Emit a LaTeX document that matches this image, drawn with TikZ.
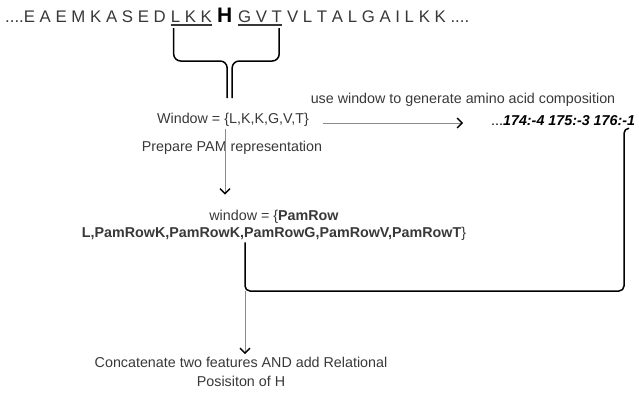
\documentclass[tikz,border=0pt]{standalone}
\usepackage{fontspec}
\setmainfont{Liberation Sans}
\usetikzlibrary{arrows.meta,positioning}
\definecolor{txtgray}{HTML}{383838}
\definecolor{linegray}{HTML}{8A8A8A}

\begin{document}
\begin{tikzpicture}[x=1pt, y=-1pt,
    lbl/.style={text=txtgray, font=\fontsize{14.3}{17}\selectfont, inner sep=2pt},
    seqtxt/.style={text=txtgray, font=\fontsize{16.8}{19}\selectfont, inner sep=0pt, anchor=base west},
    flow/.style={draw=linegray, line width=1pt, -{Straight Barb[length=5pt,width=10pt,line width=1.4pt,color=black]}},
    brace/.style={draw=black, line width=1.5pt, rounded corners=7pt},
    link/.style={draw=black, line width=1.5pt, rounded corners=5pt}]
  \useasboundingbox (0,0) rectangle (639,394);
  \node[seqtxt] (seqleft) at (5,22) {....E A E M K A S E D};
  \node[seqtxt] (lkk) at ([xshift=4.7pt]seqleft.base east) {L K K};
  \node[seqtxt, font=\bfseries\fontsize{21}{24}\selectfont, text=black] (hres) at ([xshift=4.7pt]lkk.base east) {H};
  \node[seqtxt] (gvt) at ([xshift=5.5pt]hres.base east) {G V T};
  \node[seqtxt] (seqright) at ([xshift=4.7pt]gvt.base east) {V L T A L G A I L K K ....};
  \draw[txtgray, line width=1.3pt] ([yshift=-3pt]lkk.base west) -- ([yshift=-3pt]lkk.base east);
  \draw[txtgray, line width=1.3pt] ([yshift=-3pt]gvt.base west) -- ([yshift=-3pt]gvt.base east);
  \coordinate (tipl) at ([xshift=2.5pt,yshift=-76pt]hres.base);
  \coordinate (tipr) at ([xshift=7.5pt,yshift=-76pt]hres.base);
  \draw[brace] ([xshift=3pt,yshift=-6pt]lkk.base west) |- ([yshift=37pt]tipl) -- (tipl);
  \draw[brace] ([xshift=-3pt,yshift=-6pt]gvt.base east) |- ([yshift=37pt]tipr) -- (tipr);
  \node[lbl] (window) at (233,120) {Window = \{L,K,K,G,V,T\}};
  \node[lbl] (prep) at (232,148) {Prepare PAM representation};
  \node[lbl] (usewin) at (463,100) {use window to generate amino acid composition};
  \node[lbl, anchor=west, text=black] (aac) at (489,121) {...\textbf{\textit{174:-4 175:-3 176:-1}}};
  \node[lbl, align=center] (pam) at (274,225) {window = \{\textbf{PamRow}\\\textbf{L,PamRowK,PamRowK,PamRowG,PamRowV,PamRowT}\}};
  \node[lbl, align=center] (concat) at (241,372) {Concatenate two features AND add Relational\\[2pt]Posisiton of H};
  \coordinate (join) at (245,291);
  \draw[flow, shorten <=12pt, shorten >=26pt] ([yshift=-3pt]window.east) -- ([yshift=-3pt]window.east -| aac.west);
  \draw[flow, shorten >=13pt] ([xshift=-8pt]window.south) -- ([xshift=-8pt]window.south |- pam.north);
  \draw[flow, shorten >=1pt] (join) -- (join |- concat.north);
  \draw[link] (join |- pam.south) -- (join) -| ([xshift=135pt]aac.south west) -- ([xshift=140pt]aac.south west);
\end{tikzpicture}
\end{document}
